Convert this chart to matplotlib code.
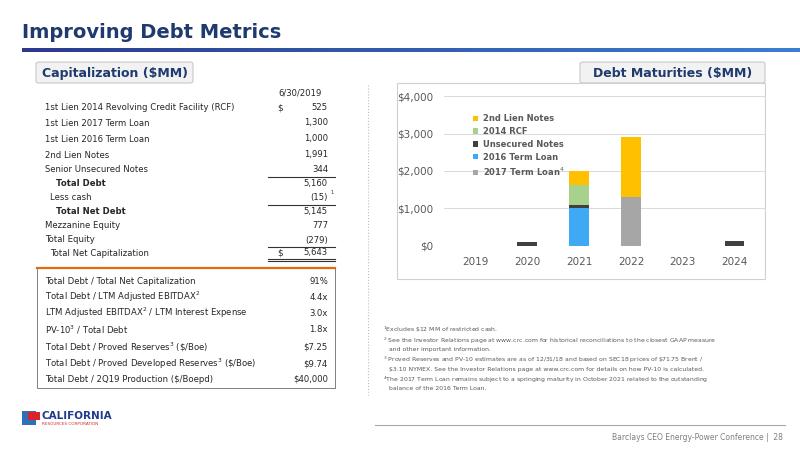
import numpy as np
import matplotlib.pyplot as plt
from matplotlib.patches import Rectangle, FancyBboxPatch
from matplotlib.lines import Line2D

# data
years = ["2019", "2020", "2021", "2022", "2023", "2024"]
term_2017 = [0, 0, 0, 1300, 0, 0]
term_2016 = [0, 0, 1000, 0, 0, 0]
unsecured = [0, 100, 100, 0, 0, 144]
rcf_2014 = [0, 0, 525, 0, 0, 0]
lien2 = [0, 0, 375, 1616, 0, 0]
series_names = ["2017 Term Loan$^4$", "2016 Term Loan", "Unsecured Notes", "2014 RCF", "2nd Lien Notes"]
series_colors = ["#a6a6a6", "#3fa9f5", "#404040", "#a9d18e", "#ffc000"]

cap_labels = ["1st Lien 2014 Revolving Credit Facility (RCF)", "1st Lien 2017 Term Loan",
              "1st Lien 2016 Term Loan", "2nd Lien Notes", "Senior Unsecured Notes",
              "Total Debt", "Less cash", "Total Net Debt", "Mezzanine Equity",
              "Total Equity", "Total Net Capitalization"]
cap_values = ["525", "1,300", "1,000", "1,991", "344", "5,160", "(15)", "5,145", "777", "(279)", "5,643"]

metric_labels = ["Total Debt / Total Net Capitalization", "Total Debt / LTM Adjusted EBITDAX$^2$",
                 "LTM Adjusted EBITDAX$^2$ / LTM Interest Expense", "PV-10$^3$ / Total Debt",
                 "Total Debt / Proved Reserves$^3$ (\\$/Boe)",
                 "Total Debt / Proved Developed Reserves$^3$ (\\$/Boe)",
                 "Total Debt / 2Q19 Production (\\$/Boepd)"]
metric_values = ["91%", "4.4x", "3.0x", "1.8x", "\\$7.25", "\\$9.74", "\\$40,000"]

footnotes = ["$^1$Excludes \\$12 MM of restricted cash.",
             "$^2$ See the Investor Relations page at www.crc.com for historical reconciliations to the closest GAAP measure",
             "   and other important information.",
             "$^3$ Proved Reserves and PV-10 estimates are as of 12/31/18 and based on SEC18 prices of \\$71.75 Brent /",
             "   \\$3.10 NYMEX. See the Investor Relations page at www.crc.com for details on how PV-10 is calculated.",
             "$^4$The 2017 Term Loan remains subject to a springing maturity in October 2021 related to the outstanding",
             "   balance of the 2016 Term Loan."]

W, H = 800, 450
fig = plt.figure(figsize=(8, 4.5), dpi=100)
fig.patch.set_facecolor("white")

def fx(x):
    return x / W

def fy(y):
    return 1 - y / H

def txt(x, y, s, **kw):
    kw.setdefault("fontsize", 6.1)
    kw.setdefault("color", "#262626")
    kw.setdefault("va", "center")
    fig.text(fx(x), fy(y), s, **kw)

navy = "#1f3a6e"

# title and gradient line
txt(22, 33, "Improving Debt Metrics", fontsize=14, weight="heavy", color=navy)
grad = fig.add_axes([fx(22), fy(52), fx(778), 4 / H])
grad.imshow(np.linspace(0, 1, 256)[None, :], aspect="auto",
            cmap=plt.matplotlib.colors.LinearSegmentedColormap.from_list("g", ["#2b3a8c", "#3b7fd1"]))
grad.axis("off")

# section headers
for x0, x1, label in [(36, 193, "Capitalization (\\$MM)"), (580, 765, "Debt Maturities (\\$MM)")]:
    fig.patches.append(FancyBboxPatch((fx(x0), fy(83)), fx(x1 - x0), 21 / H, boxstyle="round,pad=0.0,rounding_size=0.004",
                                      transform=fig.transFigure, facecolor="#f2f2f2", edgecolor="#c8c8c8", lw=0.8, zorder=-1))
    txt((x0 + x1) / 2, 73, label, fontsize=9, weight="bold", color=navy, ha="center")

# capitalization table
txt(300, 93, "6/30/2019", ha="center")
rows_y = [108, 123, 139, 155, 169, 183, 198, 212, 226, 240, 253]
for i, (lab, val) in enumerate(zip(cap_labels, cap_values)):
    y = rows_y[i]
    x = 45
    kw = {}
    if lab in ("Total Debt", "Total Net Debt"):
        x = 56
        kw["weight"] = "bold"
    elif lab in ("Less cash", "Total Net Capitalization"):
        x = 50
    txt(x, y, lab, **kw)
    txt(328, y, val, ha="right")
txt(330, 192, "1", fontsize=3.5)
txt(277, 108, "$", fontsize=6.3)
txt(277, 253, "$", fontsize=6.3)
for y in [177, 205, 247, 259, 261]:
    fig.add_artist(Line2D([fx(268), fx(335)], [fy(y), fy(y)], color="#333333", lw=0.8))
fig.add_artist(Line2D([fx(37), fx(335)], [fy(268), fy(268)], color="#e46c0a", lw=1.6))

# metrics box
fig.patches.append(Rectangle((fx(37), fy(388)), fx(298), 120 / H, transform=fig.transFigure,
                             facecolor="none", edgecolor="#7f7f7f", lw=0.7))
met_y = [281, 297, 313, 330, 347, 364, 379]
for y, lab, val in zip(met_y, metric_labels, metric_values):
    txt(45, y, lab)
    txt(328, y, val, ha="right")

# divider
fig.add_artist(Line2D([fx(368), fx(368)], [fy(85), fy(395)], color="#bfbfbf", lw=0.8, ls=":"))

# chart frame
fig.patches.append(Rectangle((fx(397), fy(279)), fx(368), 196 / H, transform=fig.transFigure,
                             facecolor="white", edgecolor="#d0d0d0", lw=0.8, zorder=-1))

ax = fig.add_axes([fx(444), fy(246), fx(322), 150 / H])
ax.set_zorder(2)
x = np.arange(len(years))
bottom = np.zeros(len(years))
for vals, name, col in zip([term_2017, term_2016, unsecured, rcf_2014, lien2], series_names, series_colors):
    ax.bar(x, vals, 0.37, bottom=bottom, color=col, label=name, zorder=3)
    bottom += np.array(vals)
ax.set_xlim(-0.6, 5.6)
ax.set_ylim(0, 4000)
ax.set_yticks([0, 1000, 2000, 3000, 4000])
ax.set_yticklabels(["$0", "$1,000", "$2,000", "$3,000", "$4,000"])
ax.set_xticks(x)
ax.set_xticklabels(years)
ax.grid(axis="y", color="#d9d9d9", lw=0.7, zorder=0)
for s in ax.spines.values():
    s.set_visible(False)
ax.tick_params(length=0, labelsize=7.5, colors="#595959", pad=8)
ax.set_facecolor("none")
h, l = ax.get_legend_handles_labels()
leg = ax.legend(h[::-1], l[::-1], loc="upper left", bbox_to_anchor=(0.08, 0.9), frameon=False,
                fontsize=6, handlelength=0.6, handleheight=0.6, labelspacing=0.45, handletextpad=0.6,
                labelcolor="#595959", borderaxespad=0)
for t in leg.get_texts():
    t.set_fontweight("bold")

# footnotes
fn_y = [330, 341, 350, 360, 369, 380, 389]
for y, s in zip(fn_y, footnotes):
    txt(383, y, s, fontsize=4.4, color="#595959")

# footer
fig.add_artist(Line2D([fx(375), fx(785)], [fy(425), fy(425)], color="#a6a6a6", lw=0.8))
txt(783, 437, "Barclays CEO Energy-Power Conference |  28", fontsize=5.5, color="#7f7f7f", ha="right")

# logo
fig.patches.append(Rectangle((fx(22), fy(425)), fx(14), 14 / H, transform=fig.transFigure,
                             facecolor="#2e6fb7", edgecolor="none"))
fig.patches.append(Rectangle((fx(28), fy(420)), fx(12), 8 / H, transform=fig.transFigure,
                             facecolor="#d9242b", edgecolor="none"))
txt(42, 416, "CALIFORNIA", fontsize=7.5, weight="bold", color="#1f3a8c")
txt(42, 424, "RESOURCES CORPORATION", fontsize=3, color="#d9242b")

fig.savefig("out.png", dpi=100, facecolor="white")
